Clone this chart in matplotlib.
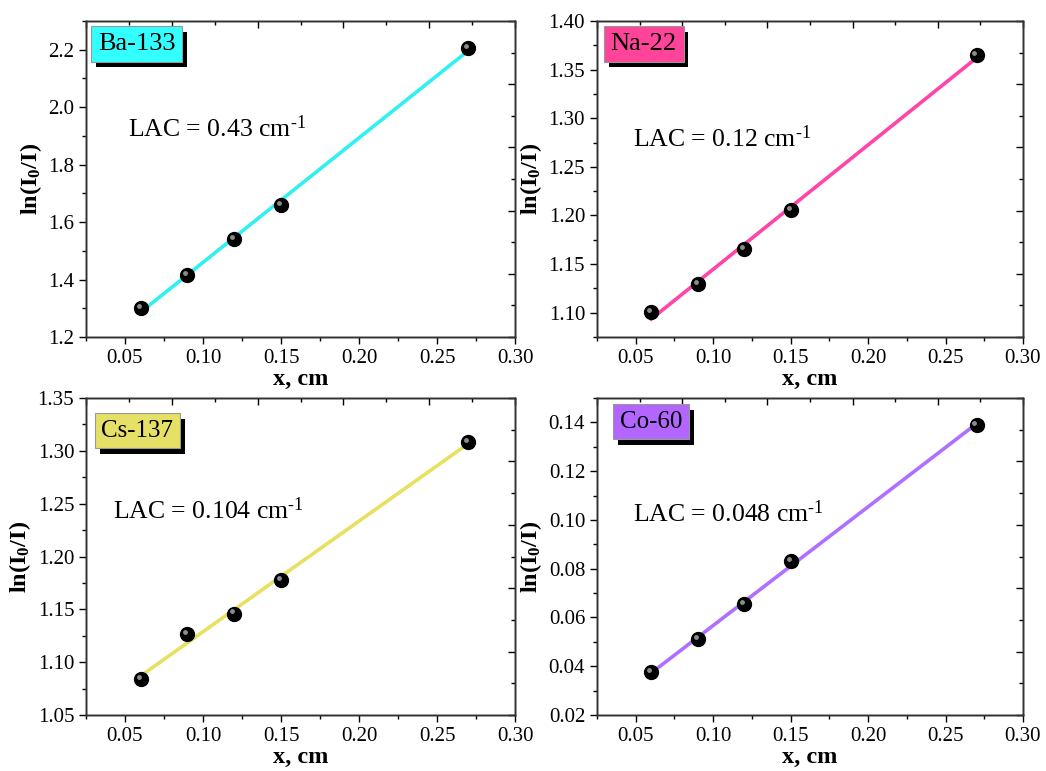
import numpy as np
import matplotlib
matplotlib.use('Agg')
import matplotlib.pyplot as plt
from matplotlib.ticker import MultipleLocator
import matplotlib.transforms as mtransforms
import matplotlib.patheffects as pe

plt.rcParams['font.family'] = ['Liberation Serif', 'DejaVu Serif']
plt.rcParams['mathtext.fontset'] = 'custom'
plt.rcParams['mathtext.rm'] = 'Liberation Serif'
plt.rcParams['mathtext.bf'] = 'Liberation Serif:bold'
plt.rcParams['mathtext.it'] = 'Liberation Serif:italic'

# data
x = [0.06, 0.09, 0.12, 0.15, 0.27]
ba133 = [1.30, 1.415, 1.542, 1.66, 2.205]
na22 = [1.101, 1.129, 1.165, 1.206, 1.365]
cs137 = [1.084, 1.127, 1.146, 1.178, 1.308]
co60 = [0.0375, 0.051, 0.0655, 0.083, 0.139]

names = ['Ba-133', 'Na-22', 'Cs-137', 'Co-60']
lac = ['0.43', '0.12', '0.104', '0.048']
line_cols = ['#33F0F0', '#FF44AA', '#E8E060', '#B070FF']
box_cols = ['#33FFFF', '#FF4499', '#E6E066', '#B266FF']
ylims = [(1.2, 2.3), (1.075, 1.40), (1.05, 1.35), (0.02, 0.15)]
ymaj = [0.2, 0.05, 0.05, 0.02]
series = [ba133, na22, cs137, co60]

# axes rectangles (figure fraction)
rects = [[0.0822, 0.5629, 0.4102, 0.4099],
         [0.5707, 0.5629, 0.4073, 0.4099],
         [0.0822, 0.0726, 0.4102, 0.4112],
         [0.5707, 0.0726, 0.4073, 0.4112]]
lac_pos = [(0.098, 0.658), (0.085, 0.627), (0.063, 0.645), (0.085, 0.635)]
box_pos = [(0.028, 0.962), (0.032, 0.962), (0.036, 0.932), (0.054, 0.960)]
box_fs = [19, 19, 18, 18]

fig = plt.figure(figsize=(10.46, 7.71), dpi=100)

for i in range(4):
    ax = fig.add_axes(rects[i])
    y = series[i]
    k, b = np.polyfit(x, y, 1)
    xf = np.array([x[0], x[-1]])
    ax.plot(xf, k * xf + b, color=line_cols[i], lw=2.6, zorder=2)
    # black balls with a small highlight
    ax.plot(x, y, 'o', color='black', ms=10, zorder=3)
    hl = ax.transData + mtransforms.ScaledTranslation(-1.5 / 72, 1.5 / 72, fig.dpi_scale_trans)
    ax.plot(x, y, 'o', color='#b0b0b0', ms=3.5, mec='none', alpha=0.8, transform=hl, zorder=4)

    ax.set_xlim(0.025, 0.30)
    ax.set_ylim(*ylims[i])
    ax.xaxis.set_major_locator(MultipleLocator(0.05))
    ax.xaxis.set_minor_locator(MultipleLocator(0.025))
    ax.yaxis.set_major_locator(MultipleLocator(ymaj[i]))
    ax.yaxis.set_minor_locator(MultipleLocator(ymaj[i] / 2))
    ax.tick_params(which='both', direction='out', top=False, right=False, labelsize=15, width=1)
    ax.tick_params(which='major', length=5)
    ax.tick_params(which='minor', length=3)
    ax.xaxis.set_major_formatter(plt.FuncFormatter(lambda v, p: '%.2f' % v))
    if i == 0:
        ax.yaxis.set_major_formatter(plt.FuncFormatter(lambda v, p: '%.1f' % v))
    else:
        ax.yaxis.set_major_formatter(plt.FuncFormatter(lambda v, p: '%.2f' % v))
    for s in ax.spines.values():
        s.set_linewidth(1.0)
        s.set_color('#333333')

    ax.set_xlabel('x, cm', fontsize=17.5, fontweight='bold', labelpad=1)
    ax.set_ylabel(r'ln(I$_{\mathbf{0}}$/I)', fontsize=17.5, fontweight='bold', labelpad=3)

    # mirrored axes on top/right with their own 5 divisions, ticks inward
    tx = ax.twinx()
    tx.set_ylim(0, 5)
    tx.yaxis.set_major_locator(MultipleLocator(1))
    tx.yaxis.set_minor_locator(MultipleLocator(0.5))
    tx.tick_params(which='both', direction='in', labelright=False, width=1)
    tx.tick_params(which='major', length=5)
    tx.tick_params(which='minor', length=3)
    ty = ax.twiny()
    ty.set_xlim(0, 5)
    ty.xaxis.set_major_locator(MultipleLocator(1))
    ty.xaxis.set_minor_locator(MultipleLocator(0.5))
    ty.tick_params(which='both', direction='in', labeltop=False, width=1)
    ty.tick_params(which='major', length=5)
    ty.tick_params(which='minor', length=3)
    for a in (tx, ty):
        for s in a.spines.values():
            s.set_linewidth(1.0)
            s.set_color('#333333')

    ax.text(lac_pos[i][0], lac_pos[i][1], 'LAC = ' + lac[i] + ' cm$^{\u2010\\mathregular{1}}$',
            transform=ax.transAxes, fontsize=18.5, ha='left', va='center', zorder=5)

    # label box with black drop shadow
    bx, by = box_pos[i]
    t = ty.text(bx, by, names[i], transform=ax.transAxes, fontsize=box_fs[i], ha='left', va='top',
                color='black', zorder=6,
                bbox=dict(boxstyle='square,pad=0.26', fc=box_cols[i], ec='#999999', lw=0.8))
    t.get_bbox_patch().set_path_effects([
        pe.SimplePatchShadow(offset=(3.5, -4), shadow_rgbFace='black', alpha=1.0),
        pe.Normal()])

fig.savefig('out.png', dpi=100)
